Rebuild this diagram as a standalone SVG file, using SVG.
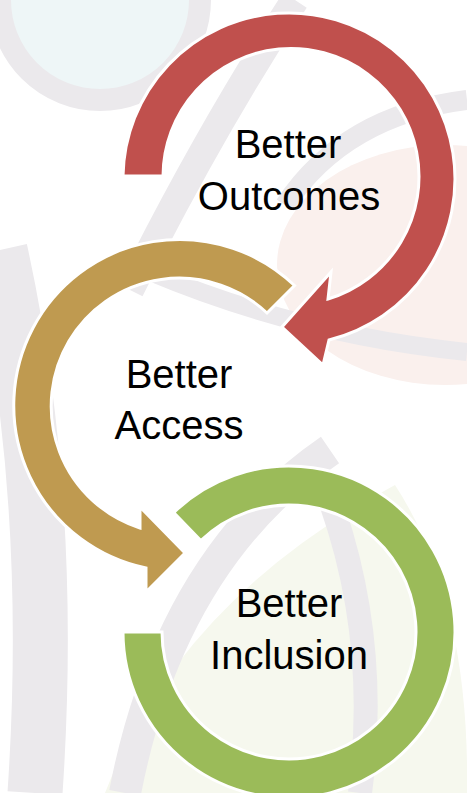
<svg xmlns="http://www.w3.org/2000/svg" width="467" height="793" viewBox="0 0 467 793">
  <style>
    .band { fill: none; stroke: #ebe9ec; stroke-linecap: butt; }
    .arrow { stroke: #ffffff; stroke-width: 3; stroke-linejoin: miter; }
    .label { font-family: "Liberation Sans", Arial, sans-serif; font-size: 40px; fill: #000000; text-anchor: middle; }
  </style>
  <rect x="0" y="0" width="467" height="793" fill="#ffffff"/>
  <g id="background">
    <circle cx="100" cy="0" r="90" fill="#eef6f7"/>
    <circle cx="100" cy="0" r="100" class="band" stroke-width="22"/>
    <ellipse cx="445" cy="265" rx="168" ry="120" fill="#faf0ed"/>
    <path class="band" d="M285 205 Q345 115 467 100" stroke-width="20"/>
    <path class="band" d="M150 272 Q300 335 467 352" stroke-width="18"/>
    <path class="band" d="M295 0 Q210 130 130 290" stroke-width="28"/>
    <path d="M395 485 Q470 600 467 793 L105 793 Q180 600 395 485 Z" fill="#f6f8ee"/>
    <path class="band" d="M0 250 Q55 500 35 793" stroke-width="55"/>
    <path class="band" d="M330 450 Q170 560 125 793" stroke-width="32"/>
    <path class="band" d="M330 500 Q380 640 360 793" stroke-width="24"/>
  </g>
  <g id="connectors">
    <path id="arrow-outcomes" class="arrow" fill="#c0504d"
      d="M123 176 A166 166 0 1 1 329 340 L323 365 L282 327 L331 272 L328 299 A128 128 0 1 0 163 176 Z"/>
    <path id="arrow-access" class="arrow" fill="#bf9a50"
      d="M294.5 285.5 A166 166 0 1 0 146 568 L146 592 L185 553 L140 507 L140 528 A128 128 0 1 1 267 313 Z"/>
    <path id="ring-inclusion" class="arrow" fill="#9bbb59"
      d="M123 632 A166 166 0 1 0 173.7 512.6 L200.8 540.6 A127 127 0 1 1 162 632 Z"/>
  </g>
  <g id="node-outcomes">
    <text class="label" x="288" y="158">Better</text>
    <text class="label" x="289" y="210">Outcomes</text>
  </g>
  <g id="node-access">
    <text class="label" x="179" y="388">Better</text>
    <text class="label" x="179" y="439">Access</text>
  </g>
  <g id="node-inclusion">
    <text class="label" x="289" y="617">Better</text>
    <text class="label" x="289" y="669">Inclusion</text>
  </g>
</svg>
